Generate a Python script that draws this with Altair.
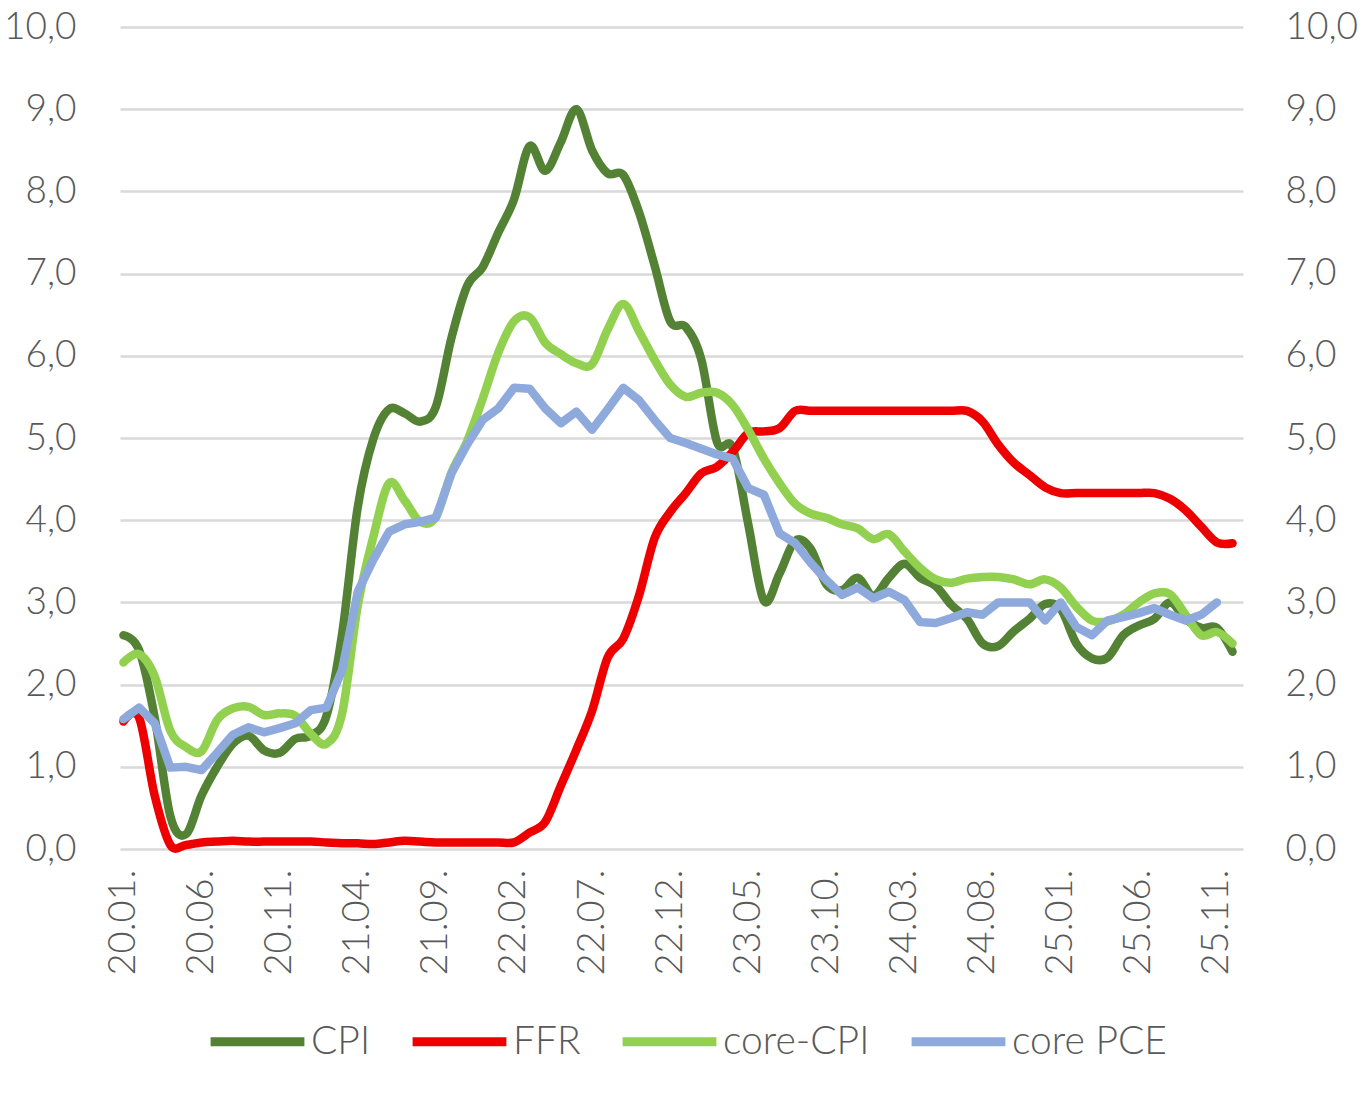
import altair as alt
import pandas as pd

tick_labels = ["20.01.", "20.06.", "20.11.", "21.04.", "21.09.", "22.02.", "22.07.",
               "22.12.", "23.05.", "23.10.", "24.03.", "24.08.", "25.01.", "25.06.", "25.11."]
series_names = ["CPI", "FFR", "core-CPI", "core PCE"]
series_colors = ["#548235", "#EE0000", "#92D050", "#8EA9DB"]

cpi = [2.6, 2.42, 1.6, 0.4, 0.18, 0.65, 1.0, 1.28, 1.38, 1.2, 1.17, 1.34,
       1.38, 1.62, 2.62, 4.16, 4.99, 5.35, 5.3, 5.2, 5.38, 6.22, 6.85, 7.08,
       7.5, 7.9, 8.55, 8.25, 8.6, 9.0, 8.5, 8.22, 8.2, 7.75, 7.1, 6.42,
       6.35, 5.95, 4.95, 4.88, 3.95, 3.02, 3.35, 3.75, 3.65, 3.22, 3.15, 3.3,
       3.08, 3.3, 3.47, 3.3, 3.2, 2.97, 2.8, 2.5, 2.47, 2.65, 2.8, 2.98,
       2.92, 2.5, 2.32, 2.33, 2.6, 2.72, 2.8, 3.0, 2.8, 2.69, 2.69, 2.4]

ffr = [1.55, 1.6, 0.65, 0.05, 0.05, 0.08, 0.09, 0.1, 0.09, 0.09, 0.09, 0.09,
       0.09, 0.08, 0.07, 0.07, 0.06, 0.08, 0.1, 0.09, 0.08, 0.08, 0.08, 0.08,
       0.08, 0.08, 0.2, 0.33, 0.77, 1.21, 1.68, 2.33, 2.56, 3.08, 3.78, 4.1,
       4.33, 4.57, 4.65, 4.83, 5.06, 5.08, 5.12, 5.33, 5.33, 5.33, 5.33, 5.33,
       5.33, 5.33, 5.33, 5.33, 5.33, 5.33, 5.33, 5.2, 4.92, 4.7, 4.55, 4.4,
       4.33, 4.33, 4.33, 4.33, 4.33, 4.33, 4.33, 4.26, 4.12, 3.92, 3.73, 3.72]

core_cpi = [2.27, 2.37, 2.1, 1.44, 1.24, 1.19, 1.57, 1.71, 1.73, 1.63, 1.65, 1.62,
            1.4, 1.28, 1.65, 2.96, 3.8, 4.45, 4.24, 3.98, 4.04, 4.58, 4.96, 5.48,
            6.04, 6.42, 6.47, 6.16, 6.02, 5.91, 5.9, 6.32, 6.63, 6.3, 5.95, 5.65,
            5.5, 5.55, 5.55, 5.4, 5.1, 4.75, 4.45, 4.2, 4.08, 4.03, 3.95, 3.9,
            3.77, 3.83, 3.62, 3.42, 3.28, 3.24, 3.29, 3.31, 3.31, 3.28, 3.22, 3.28,
            3.18, 2.95, 2.78, 2.77, 2.85, 3.0, 3.11, 3.1, 2.85, 2.6, 2.64, 2.5]

core_pce = [1.58, 1.72, 1.53, 0.99, 1.0, 0.96, 1.17, 1.39, 1.48, 1.42, 1.47, 1.53,
            1.69, 1.72, 2.18, 3.13, 3.52, 3.86, 3.95, 3.98, 4.03, 4.57, 4.92, 5.22,
            5.36, 5.61, 5.6, 5.36, 5.18, 5.32, 5.1, 5.35, 5.61, 5.46, 5.22, 5.0,
            4.94, 4.87, 4.8, 4.75, 4.39, 4.31, 3.84, 3.72, 3.48, 3.27, 3.09, 3.18,
            3.05, 3.13, 3.03, 2.76, 2.75, 2.81, 2.88, 2.85, 3.0, 3.0, 3.0, 2.78,
            3.0, 2.7, 2.6, 2.78, 2.82, 2.87, 2.93, 2.85, 2.78, 2.85, 3.0]

rows = []
for name, vals in zip(series_names, [cpi, ffr, core_cpi, core_pce]):
    for i, v in enumerate(vals):
        rows.append({"i": i, "value": v, "series": name})
df = pd.DataFrame(rows)

FONT = "Lato"
GREY = "#595959"

label_expr = "[" + ",".join("'" + t + "'" for t in tick_labels) + "][round(datum.value / 5)]"
y_expr = "replace(format(datum.value, '.1f'), '.', ',')"

x_enc = alt.X(
    "i:Q",
    title=None,
    scale=alt.Scale(domain=[-0.22, 71.67], nice=False, zero=False),
    axis=alt.Axis(values=list(range(0, 71, 5)), labelExpr=label_expr, labelAngle=270,
                  grid=False, domain=False, ticks=False, labelPadding=20,
                  labelFontSize=38, labelFont=FONT, labelFontWeight=300,
                  labelColor=GREY, labelOverlap=False),
)

y_scale = alt.Scale(domain=[0, 10], nice=False, zero=True)

color_enc = alt.Color(
    "series:N",
    scale=alt.Scale(domain=series_names, range=series_colors),
    legend=alt.Legend(
        title=None, orient="none", direction="horizontal", legendX=86, legendY=963,
        symbolType="stroke", symbolSize=8800, symbolStrokeWidth=9,
        labelFont=FONT, labelFontSize=39, labelFontWeight=300, labelColor=GREY,
        labelOffset=2, columnPadding=23,
    ),
)

smooth = alt.Chart(df).transform_filter(
    alt.datum.series != "core PCE"
).mark_line(strokeWidth=8.5, strokeCap="round", strokeJoin="round", interpolate="cardinal").encode(
    x=x_enc,
    y=alt.Y("value:Q", title=None, scale=y_scale,
            axis=alt.Axis(orient="left", values=list(range(0, 11)), labelExpr=y_expr,
                          grid=True, gridColor="#D9D9D9", gridWidth=2.5,
                          domain=False, ticks=False, labelPadding=44,
                          labelFontSize=37, labelFont=FONT, labelFontWeight=300,
                          labelColor=GREY)),
    color=color_enc,
    detail="series:N",
)

pce = alt.Chart(df).transform_filter(
    alt.datum.series == "core PCE"
).mark_line(strokeWidth=8.5, strokeCap="round", strokeJoin="round").encode(
    x=x_enc,
    y=alt.Y("value:Q", title=None, scale=y_scale,
            axis=alt.Axis(orient="right", values=list(range(0, 11)), labelExpr=y_expr,
                          grid=False, domain=False, ticks=False, labelPadding=42,
                          labelFontSize=37, labelFont=FONT, labelFontWeight=300,
                          labelColor=GREY)),
    color=color_enc,
)

chart = alt.layer(smooth, pce).resolve_axis(y="independent").properties(
    width=1123, height=822,
    autosize=alt.AutoSizeParams(type="none"),
    padding={"left": 120, "top": 27, "right": 121, "bottom": 259},
    background="white",
).configure_view(strokeWidth=0)

chart.save("out.html", embed_options={"renderer": "svg", "actions": False})
